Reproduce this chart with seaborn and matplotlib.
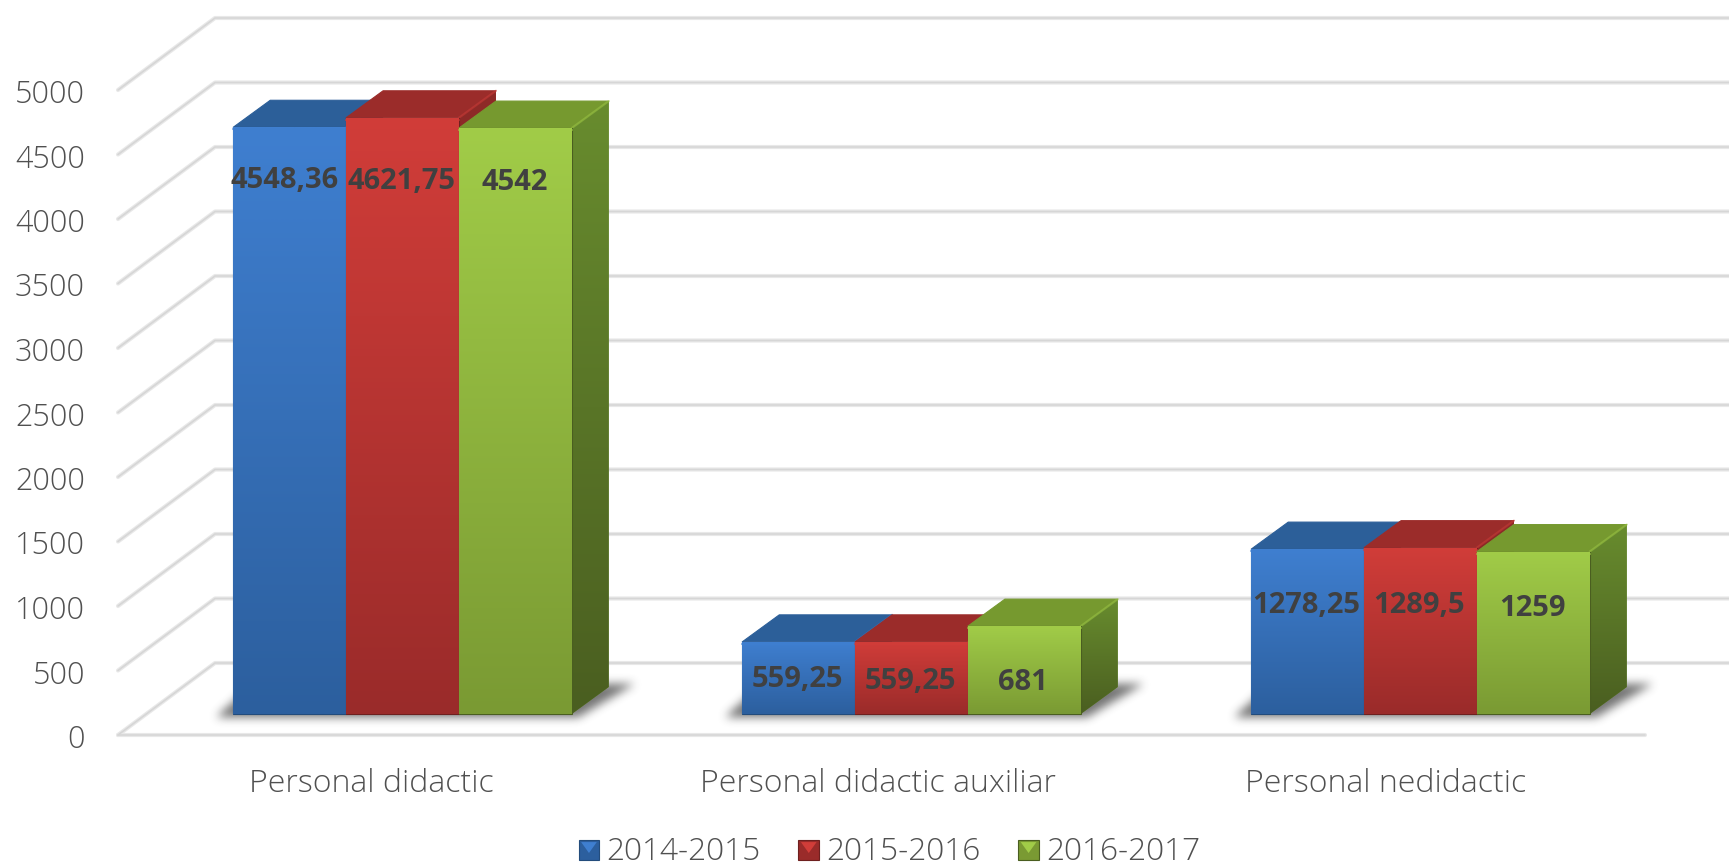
# import packages

import numpy as np
import pandas as pd
import matplotlib
matplotlib.use("Agg")
import matplotlib.pyplot as plt
import seaborn as sns
from matplotlib.colors import LinearSegmentedColormap
from matplotlib.legend_handler import HandlerBase
from matplotlib.patches import Polygon, Rectangle
from matplotlib.path import Path

# chart values

categories = ["Personal didactic", "Personal didactic auxiliar", "Personal nedidactic"]
years = ["2014-2015", "2015-2016", "2016-2017"]
values_2014 = [4548.36, 559.25, 1278.25]
values_2015 = [4621.75, 559.25, 1289.5]
values_2016 = [4542, 681, 1259]
labels_2014 = ["4548,36", "559,25", "1278,25"]
labels_2015 = ["4621,75", "559,25", "1289,5"]
labels_2016 = ["4542", "681", "1259"]
y_ticks = [0, 500, 1000, 1500, 2000, 2500, 3000, 3500, 4000, 4500, 5000]

df = pd.DataFrame({
    "categorie": categories * 3,
    "an": np.repeat(years, 3),
    "valoare": values_2014 + values_2015 + values_2016,
})
all_labels = [labels_2014, labels_2015, labels_2016]

# how far each data label sits under the top of its bar, in pixels
label_drop = [[50, 34, 53], [60, 36, 54], [51, 53, 53]]

# colours: (top, bottom) of the front face, side face, top face
front_cols = [("#3f7fd0", "#2c5f9e"), ("#d13d39", "#9a2b2a"), ("#a1cc48", "#7a9a33")]
side_cols = [("#2f649f", "#234c7c"), ("#8f2a28", "#6e201f"), ("#688c2e", "#4a5e20")]
top_cols = ["#2c5f99", "#9b2c2a", "#76992f"]
text_col = "#505050"

# layout in pixels of the 1729x866 picture

W, H = 1729, 866
px_cat = 509.0       # one category
px_val = 0.129       # one unit of value
zero_x, zero_y = 402.5, 714.0   # category 0 / value 0 on the bars' front plane

x_per_px = 1 / px_cat
y_per_px = 1 / px_val

# depth offsets from the bars' front plane
front_dx, front_dy = -30 * x_per_px, -21 * y_per_px   # front of the floor
wall_dx, wall_dy = 67 * x_per_px, 51 * y_per_px       # back wall
bar_dx, bar_dy = 37 * x_per_px, 27 * y_per_px         # back of the bars

sns.set_theme(style="white")
plt.rcParams["font.family"] = ["Open Sans", "DejaVu Sans"]

fig = plt.figure(figsize=(W / 100, H / 100), dpi=100)
ax = fig.add_axes([0, 0, 1, 1])

sns.barplot(data=df, x="categorie", y="valoare", hue="an", palette=[c[0] for c in front_cols],
            width=0.665, gap=0, saturation=1, errorbar=None, legend=False, ax=ax)

xlim = (-zero_x * x_per_px, (W - zero_x) * x_per_px)
ylim = (-(H - zero_y) * y_per_px, zero_y * y_per_px)


def gradient(colors, extent, zorder, clip):
    cmap = LinearSegmentedColormap.from_list("g", colors)
    im = ax.imshow(np.linspace(0, 1, 256)[:, None], cmap=cmap, extent=extent, aspect="auto",
                   origin="upper", zorder=zorder, interpolation="bilinear")
    im.set_clip_path(clip)


def soft_shadow(corners, zorder):
    # blurred polygon: fill a pixel grid, then run a box blur over it a few times
    corners = np.array(corners)
    pad = 30
    xs = np.arange(corners[:, 0].min() - pad * x_per_px, corners[:, 0].max() + pad * x_per_px, x_per_px)
    ys = np.arange(corners[:, 1].min() - pad * y_per_px, corners[:, 1].max() + pad * y_per_px, y_per_px)
    gx, gy = np.meshgrid(xs, ys)
    mask = Path(corners).contains_points(np.c_[gx.ravel(), gy.ravel()]).reshape(gx.shape).astype(float)
    kernel = np.ones(9) / 9
    for _ in range(3):
        mask = np.apply_along_axis(lambda r: np.convolve(r, kernel, mode="same"), 0, mask)
        mask = np.apply_along_axis(lambda r: np.convolve(r, kernel, mode="same"), 1, mask)
    rgba = np.zeros(mask.shape + (4,))
    rgba[..., :3] = 0.25
    rgba[..., 3] = mask * 0.72
    ax.imshow(rgba, extent=(xs[0], xs[-1], ys[0], ys[-1]), origin="lower", aspect="auto",
              zorder=zorder, interpolation="bilinear")


# gridlines: floor edge to back wall, then along the wall

def grid(xs, ys):
    ax.plot(xs, ys, color="#e8e8e8", lw=3.0, solid_capstyle="round", solid_joinstyle="round", zorder=1)
    ax.plot(xs, ys, color="#d6d6d6", lw=1.2, solid_capstyle="round", solid_joinstyle="round", zorder=1.1)


left = -0.5 + front_dx
for tick in y_ticks:
    fy = tick + front_dy
    wy = tick + wall_dy
    grid([left, left + wall_dx - front_dx, xlim[1]], [fy, wy, wy])
    ax.text(left - 33 * x_per_px, fy - 1 * y_per_px, str(tick), ha="right", va="center_baseline",
            fontsize=22, fontweight=300, color=text_col)

grid([left, left + 3], [front_dy, front_dy])

# shadows on the floor, one per group of bars

for i in range(len(categories)):
    x0 = ax.containers[0][i].get_x()
    x1 = ax.containers[-1][i].get_x() + ax.containers[-1][i].get_width()
    soft_shadow([(x0 - 18 * x_per_px, -4 * y_per_px),
                 (x1 + 6 * x_per_px, -4 * y_per_px),
                 (x1 + bar_dx + 26 * x_per_px, bar_dy + 3 * y_per_px),
                 (x0 - 18 * x_per_px + bar_dx, bar_dy + 3 * y_per_px)], 1.5)

# bars: side and top faces come from each bar seaborn drew

for s, container in enumerate(ax.containers):
    base = 5 + s
    for i, bar in enumerate(container):
        x0, x1 = bar.get_x(), bar.get_x() + bar.get_width()
        h = bar.get_height()

        side = Polygon([(x1, 0), (x1 + bar_dx, bar_dy), (x1 + bar_dx, h + bar_dy), (x1, h)],
                       closed=True, facecolor=side_cols[s][0], edgecolor="none", zorder=base)
        ax.add_patch(side)
        gradient(side_cols[s], (x1, x1 + bar_dx, 0, h + bar_dy), base + 0.05, side)

        top = Polygon([(x0, h), (x1, h), (x1 + bar_dx, h + bar_dy), (x0 + bar_dx, h + bar_dy)],
                      closed=True, facecolor=top_cols[s], edgecolor=top_cols[s], lw=0.8,
                      joinstyle="round", zorder=base + 0.1)
        ax.add_patch(top)
        ax.plot([x1, x1 + bar_dx], [h, h + bar_dy], color=front_cols[s][0], lw=1.6, alpha=0.45,
                solid_capstyle="round", zorder=base + 0.15)

        bar.set_zorder(base + 0.2)
        bar.set_edgecolor(side_cols[s][1])
        bar.set_linewidth(0.8)
        gradient(front_cols[s], (x0, x1, 0, h), base + 0.3, bar)
        ax.plot([x0, x1], [h - 2 * y_per_px] * 2, color=front_cols[s][0], lw=1.5, alpha=0.7,
                zorder=base + 0.4)

        ax.text((x0 + x1) / 2 - (5 if i == 0 and s == 0 else 1) * x_per_px, h - label_drop[s][i] * y_per_px,
                all_labels[s][i], ha="center", va="center_baseline", fontsize=21,
                fontweight="bold", color="#404040", zorder=20)

# category labels sit in front of the floor

for i, name in enumerate(categories):
    ax.text(i + front_dx - (1 + i * 2) * x_per_px, -(780.5 - zero_y) * y_per_px, name, ha="center",
            va="center_baseline", fontsize=23, fontweight=300, color=text_col)


# legend with small bevelled swatches

class Swatch(HandlerBase):
    def create_artists(self, legend, orig, xd, yd, width, height, fontsize, trans):
        dark = orig.get_edgecolor()
        square = Rectangle((xd, yd), width, width, facecolor=orig.get_facecolor(), edgecolor=dark,
                           lw=0.8, transform=trans)
        tip = Polygon([(xd + width * 0.12, yd + width * 0.88), (xd + width * 0.88, yd + width * 0.88),
                       (xd + width * 0.5, yd + width * 0.35)], closed=True,
                      facecolor=orig.tip_color, edgecolor="none", transform=trans)
        return [square, tip]


handles = []
for s in range(3):
    h = Rectangle((0, 0), 1, 1, facecolor=front_cols[s][1], edgecolor=side_cols[s][1])
    h.tip_color = front_cols[s][0]
    handles.append(h)

ax.legend(handles, years, handler_map={Rectangle: Swatch()}, loc="center", ncol=3, frameon=False,
          bbox_to_anchor=(806.5 / 1568, 1 - 772 / 785), labelcolor=text_col,
          prop={"size": 22.8, "weight": 300},
          handlelength=0.65, handleheight=0.65, handletextpad=0.22, columnspacing=1.2,
          borderpad=0, borderaxespad=0)

ax.set_xlim(xlim)
ax.set_ylim(ylim)
ax.set_axis_off()

# export figure

fig.savefig("out.png", dpi=100, facecolor="white")
